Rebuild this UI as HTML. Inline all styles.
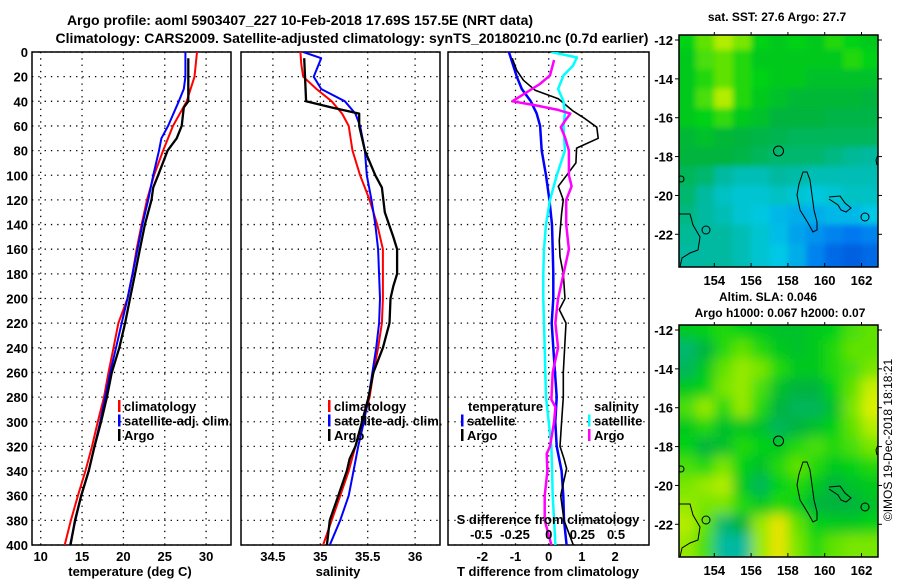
<!DOCTYPE html>
<html><head><meta charset="utf-8"><style>
body{margin:0;background:#fff;}
svg{display:block;font-family:"Liberation Sans",Arial,sans-serif;font-weight:bold;}
</style></head><body>
<svg id="c" width="900" height="580" viewBox="0 0 900 580">
<defs>
<clipPath id="cp1"><rect x="32" y="52" width="199" height="493"/></clipPath>
<clipPath id="cp2"><rect x="241" y="52" width="199" height="493"/></clipPath>
<clipPath id="cp3"><rect x="448" y="52" width="201" height="493"/></clipPath>
<clipPath id="cm1"><rect x="679" y="35" width="199" height="232"/></clipPath>
<clipPath id="cm2"><rect x="679" y="325" width="199" height="232"/></clipPath>
<filter id="blur"><feGaussianBlur stdDeviation="6"/></filter>
<filter id="blur2"><feGaussianBlur stdDeviation="3"/></filter>
</defs>
<text x="300" y="25" font-size="14" text-anchor="middle">Argo profile: aoml 5903407_227 10-Feb-2018 17.69S 157.5E (NRT data)</text>
<text x="352" y="43" font-size="14" text-anchor="middle">Climatology: CARS2009. Satellite-adjusted climatology: synTS_20180210.nc (0.7d earlier)</text>
<g id="g"></g>
<text x="777" y="21" font-size="12" text-anchor="middle">sat. SST: 27.6 Argo: 27.7</text>
<text x="768" y="301" font-size="12" text-anchor="middle">Altim. SLA: 0.046</text>
<text x="780" y="317" font-size="12" text-anchor="middle">Argo h1000: 0.067 h2000: 0.07</text>
<text transform="translate(892,440) rotate(-90)" font-size="12" font-weight="normal" text-anchor="middle">©IMOS 19-Dec-2018 18:18:21</text>
</svg>
<script>
// ---- data ----
const depthTicks=[0,20,40,60,80,100,120,140,160,180,200,220,240,260,280,300,320,340,360,380,400];
const tTicks=[10,15,20,25,30];
const sTicks=[34.5,35,35.5,36];
const dTTicks=[-2,-1,0,1,2];
const dSTicks=[-0.5,-0.25,0,0.25,0.5];
const tClimDepth=[0,20,40,60,80,100,120,140,160,180,200,220,240,260,280,300,320,340,360,380,400];
const tClim=[28.9,28.6,27.65,26.0,24.8,23.7,22.85,22.2,21.6,21.1,20.5,19.4,18.8,18.2,17.65,16.9,16.2,15.4,14.5,13.65,12.9];
const tSatDepth=[0,20,30,40,60,70,80,100,120,140,160,180,200,220,240,260,280,300,320,340,360,380,400];
const tSat=[27.5,27.5,27.3,26.7,25.4,24.6,24.3,23.6,23.0,22.3,21.7,21.1,20.5,19.8,19.1,18.4,17.8,17.2,16.5,15.8,14.9,14.2,13.55];
const tArgoDepth=[5,40,45,60,70,80,100,110,120,140,160,180,200,220,240,260,280,300,320,340,360,380,400];
const tArgo=[27.85,27.85,27.3,27.05,26.45,25.35,24.2,23.6,23.4,22.6,22.0,21.4,20.8,20.2,19.5,18.6,18.0,17.3,16.5,15.8,14.9,14.15,13.6];
const sClimDepth=[0,10,20,30,40,50,60,80,100,120,140,160,180,200,220,240,260,280,300,320,340,360,380,400];
const sClim=[34.79,34.80,34.82,34.96,35.12,35.23,35.30,35.34,35.42,35.52,35.60,35.66,35.66,35.66,35.65,35.61,35.56,35.52,35.45,35.37,35.30,35.21,35.12,35.03];
const sSatDepth=[0,5,20,30,40,50,60,80,100,120,140,160,200,220,240,260,280,300,320,340,360,380,400];
const sSat=[34.82,35.01,34.93,35.01,35.26,35.37,35.42,35.47,35.49,35.54,35.58,35.61,35.63,35.62,35.59,35.55,35.51,35.46,35.40,35.35,35.30,35.21,35.10];
const sArgoDepth=[5,40,45,50,60,80,100,110,130,150,160,180,190,200,220,240,260,280,300,320,330,340,360,380,400];
const sArgo=[34.83,34.85,35.12,35.41,35.41,35.47,35.58,35.65,35.68,35.77,35.81,35.81,35.77,35.74,35.73,35.66,35.56,35.51,35.44,35.37,35.31,35.28,35.19,35.10,35.07];
const dTSatDepth=[0,20,30,40,50,60,80,100,120,140,160,180,200,220,240,260,280,300,320,340,360,380,400];
const dTSat=[-1.2,-0.96,-0.81,-0.54,-0.36,-0.26,-0.21,-0.08,0.02,0.1,0.12,0.14,0.14,0.09,0.14,0.19,0.24,0.2,0.24,0.39,0.44,0.46,0.54];
const dTArgoDepth=[5,15,23,31,38,48,54,61,70,78,90,100,109,120,131,153,166,180,200,209,220,260,280,300,320,330,338,350,360,380,400];
const dTArgo=[-1.1,-0.96,-0.76,-0.41,0.29,0.74,1.09,1.45,1.49,0.84,0.82,0.54,0.29,0.44,0.39,0.32,0.34,0.44,0.49,0.32,0.52,0.44,0.44,0.39,0.34,0.46,0.54,0.44,0.36,0.46,0.74];
const dSSatDepth=[0,4.5,11,19,30,40,50,60,80,100,120,140,160,180,200,240,260,280,300,320,340,360,380,400];
const dSSat=[0.02,0.21,0.18,0.11,0.07,0.11,0.12,0.11,0.12,0.06,0.01,-0.02,-0.035,-0.04,-0.04,-0.03,-0.025,-0.02,0,0.02,0.025,0.03,0.04,0.05];
const dSArgoDepth=[6.5,19,26,40,43,47,50,56,61,69,80,100,109,120,140,160,180,200,209,220,240,260,282,288,300,320,326,340,360,380,400];
const dSArgo=[0.04,0.01,-0.065,-0.27,-0.11,0.07,0.16,0.12,0.09,0.12,0.15,0.15,0.17,0.13,0.13,0.15,0.11,0.07,0.06,0.05,0.07,0.03,0.02,0.05,0.04,0.01,-0.015,-0.01,-0.03,-0.03,0.02];
const mapLons=[152.5,153.5,154.5,155.5,156.5,157.5,158.5,159.5,160.5,161.5,162.5];
const mapLats=[-12,-13,-14,-15,-16,-17,-18,-19,-20,-21,-22,-23];
const lonTicks=[154,156,158,160,162];
const latTicks=[-12,-14,-16,-18,-20,-22];
const sstGrid=[
[0.62,0.7,0.78,0.72,0.62,0.6,0.62,0.6,0.65,0.62,0.6],
[0.6,0.68,0.7,0.65,0.6,0.6,0.6,0.6,0.6,0.65,0.62],
[0.6,0.65,0.7,0.65,0.62,0.6,0.6,0.58,0.58,0.58,0.58],
[0.6,0.68,0.78,0.65,0.6,0.58,0.56,0.56,0.56,0.56,0.55],
[0.6,0.62,0.66,0.6,0.58,0.55,0.55,0.55,0.54,0.54,0.54],
[0.56,0.58,0.56,0.55,0.54,0.53,0.52,0.52,0.52,0.52,0.52],
[0.55,0.55,0.55,0.54,0.52,0.5,0.5,0.5,0.48,0.46,0.45],
[0.52,0.5,0.45,0.42,0.42,0.45,0.44,0.42,0.42,0.42,0.42],
[0.5,0.45,0.4,0.38,0.38,0.4,0.38,0.36,0.38,0.4,0.4],
[0.48,0.45,0.42,0.38,0.36,0.32,0.3,0.3,0.32,0.32,0.35],
[0.46,0.45,0.45,0.42,0.38,0.33,0.28,0.25,0.22,0.2,0.22],
[0.45,0.45,0.45,0.42,0.38,0.35,0.3,0.22,0.15,0.12,0.15]];
const slaGrid=[
[0.6,0.62,0.65,0.62,0.6,0.58,0.58,0.6,0.62,0.68,0.7],
[0.5,0.55,0.65,0.7,0.65,0.6,0.58,0.6,0.65,0.7,0.7],
[0.52,0.6,0.7,0.75,0.72,0.65,0.6,0.6,0.65,0.68,0.72],
[0.6,0.62,0.72,0.75,0.68,0.58,0.55,0.55,0.62,0.7,0.8],
[0.68,0.75,0.65,0.75,0.65,0.55,0.52,0.52,0.58,0.72,0.82],
[0.6,0.65,0.58,0.6,0.58,0.52,0.55,0.58,0.62,0.7,0.78],
[0.62,0.55,0.58,0.65,0.62,0.6,0.65,0.68,0.65,0.68,0.72],
[0.68,0.65,0.72,0.62,0.58,0.65,0.7,0.65,0.6,0.62,0.65],
[0.72,0.75,0.78,0.6,0.52,0.62,0.65,0.6,0.55,0.58,0.6],
[0.75,0.72,0.72,0.65,0.6,0.65,0.62,0.55,0.55,0.55,0.58],
[0.78,0.7,0.5,0.55,0.75,0.85,0.7,0.62,0.6,0.6,0.62],
[0.75,0.68,0.45,0.45,0.75,0.85,0.72,0.65,0.7,0.72,0.72]];

// ---- drawing ----
const NS='http://www.w3.org/2000/svg';
const G=document.getElementById('g');
function mk(tag,attrs,parent){const e=document.createElementNS(NS,tag);for(const k in attrs)e.setAttribute(k,attrs[k]);(parent||G).appendChild(e);return e;}
const Y=d=>52+d*1.2325;
function panel(x0,x1,xs,ticks,clip,name){
  const g=mk('g',{});
  
  
  ticks.forEach(t=>{const l=mk('line',{x1:xs(t),x2:xs(t),y1:52,y2:545,stroke:'#000','stroke-width':1.3,'stroke-dasharray':'1.3 5'},g);
    });
  depthTicks.forEach(d=>{const l=mk('line',{x1:x0,x2:x1,y1:Y(d),y2:Y(d),stroke:'#000','stroke-width':1.3,'stroke-dasharray':'1.3 5'},g);
    });
  const r=mk('rect',{x:x0,y:52,width:x1-x0,height:493,fill:'none',stroke:'#000','stroke-width':1.5},g);
  
  return g;
}
function line(g,xs,depths,vals,color,w,clip,name){
  const pts=depths.map((d,i)=>xs(vals[i]).toFixed(1)+','+Y(d).toFixed(1)).join(' ');
  const p=mk('polyline',{points:pts,fill:'none',stroke:color,'stroke-width':w,'stroke-linejoin':'round','clip-path':'url(#'+clip+')'},g);
  
}
function txt(s,x,y,anchor,size,name,color){const t=mk('text',{x:x,y:y,'text-anchor':anchor,'font-size':size,fill:color||'#000'});t.textContent=s;
  return t;}
function legend(items,x,y){items.forEach((it,i)=>{const yy=y+i*14.5;
  const b=mk('rect',{x:x,y:yy-11,width:2.5,height:12,fill:it[1]});
  txt(it[0],x+6,yy,'start',13,'legend-entry');});}

// y labels
depthTicks.forEach(d=>txt(String(d),28,Y(d)+5,'end',13,'y-tick-label'));

// panel 1
const xT=v=>40.7+(v-10)*8.27;
const g1=panel(32,231,xT,tTicks,'cp1','temperature-panel');
line(g1,xT,tClimDepth,tClim,'#f00',2,'cp1','temp-climatology-line');
line(g1,xT,tSatDepth,tSat,'#00f',2,'cp1','temp-satellite-line');
line(g1,xT,tArgoDepth,tArgo,'#000',2.3,'cp1','temp-argo-line');
tTicks.forEach(t=>txt(String(t),xT(t),561,'middle',13,'x-tick-label'));
txt('temperature (deg C)',130,576,'middle',13,'x-axis-title');
legend([['climatology','#f00'],['satellite-adj. clim.','#00f'],['Argo','#000']],118,411);

// panel 2
const xS=v=>320.3+(v-35)*94.8;
const g2=panel(241,440,xS,sTicks,'cp2','salinity-panel');
line(g2,xS,sClimDepth,sClim,'#f00',2,'cp2','sal-climatology-line');
line(g2,xS,sSatDepth,sSat,'#00f',2,'cp2','sal-satellite-line');
line(g2,xS,sArgoDepth,sArgo,'#000',2.3,'cp2','sal-argo-line');
sTicks.forEach(t=>txt(String(t),xS(t),561,'middle',13,'x-tick-label'));
txt('salinity',338,576,'middle',13,'x-axis-title');
legend([['climatology','#f00'],['satellite-adj. clim.','#00f'],['Argo','#000']],328,411);

// panel 3
const xD=v=>548.7+v*33.2;
const xDS=v=>548.7+v*134.8;
const g3=panel(448,649,xD,dTTicks,'cp3','difference-panel');
line(g3,xD,dTSatDepth,dTSat,'#00f',2.5,'cp3','tdiff-satellite-line');
line(g3,xD,dTArgoDepth,dTArgo,'#000',1.6,'cp3','tdiff-argo-line');
line(g3,xDS,dSSatDepth,dSSat,'#0ff',2.5,'cp3','sdiff-satellite-line');
line(g3,xDS,dSArgoDepth,dSArgo,'#f0f',2.5,'cp3','sdiff-argo-line');
dTTicks.forEach(t=>txt(String(t),xD(t),561,'middle',13,'x-tick-label'));
txt('T difference from climatology',548,576,'middle',13,'x-axis-title');
txt('S difference from climatology',548,524,'middle',13,'s-axis-title');
dSTicks.forEach(t=>txt(String(t),xDS(t),539,'middle',13,'s-tick-label'));
txt('temperature',468,411,'start',13,'legend-heading');
legend([['satellite','#00f'],['Argo','#000']],461,425.5);
txt('salinity',594,411,'start',13,'legend-heading');
legend([['satellite','#0ff'],['Argo','#f0f']],588,425.5);

// maps
const stops=[[0,[0,60,200]],[0.2,[0,120,240]],[0.35,[0,200,230]],[0.45,[0,185,160]],[0.55,[0,180,60]],[0.62,[0,210,20]],[0.72,[120,230,0]],[0.82,[220,240,0]],[0.92,[255,200,0]],[1,[255,160,0]]];
function cmap(v){for(let i=1;i<stops.length;i++){if(v<=stops[i][0]){const a=stops[i-1],b=stops[i],f=(v-a[0])/(b[0]-a[0]);
  return 'rgb('+a[1].map((c,j)=>Math.round(c+(b[1][j]-c)*f)).join(',')+')';}}return 'rgb(255,160,0)';}
function map(y0,grid,clip,blurId,name){
  const lx=v=>714.3+(v-154)*18.4, ly=v=>y0+5+(-12-v)*19.43;
  const g=mk('g',{'clip-path':'url(#'+clip+')'});
  
  const inner=mk('g',{filter:'url(#'+blurId+')'},g);
  mapLats.forEach((la,i)=>mapLons.forEach((lo,j)=>{
    const c=mk('rect',{x:lx(lo-0.5)-(j==0?12:0),y:ly(la+0.5)-(i==0?12:0),width:18.4+1+(j==0||j==10?12:0),height:19.43+1+(i==0||i==11?12:0),fill:cmap(grid[i][j])},inner);
    }));
  const off=y0-35;
  const coast=[[[799,184],[803,172],[807,172],[810,180],[812,195],[814,210],[817,222],[817,230],[813,232],[808,223],[800,210],[797,195],[799,184]],
    [[679,214],[690,214],[693,225],[700,237],[698,250],[690,253],[682,258],[680,267]],
    [[829,197],[840,196],[845,203],[851,208],[846,212],[841,210],[838,205],[829,199]],
    [[878,155],[876,160],[877,165]]];
  coast.forEach(c=>{const p=mk('polyline',{points:c.map(q=>q[0]+','+(q[1]+off)).join(' '),fill:'none',stroke:'#000','stroke-width':1},g);
    });
  [[778.5,151,5],[706,230,4],[865,217,4],[681,179,3]].forEach(c=>{const e=mk('circle',{cx:c[0],cy:c[1]+off,r:c[2],fill:'none',stroke:'#000','stroke-width':1},g);
    });
  const f=mk('rect',{x:679,y:y0,width:199,height:232,fill:'none',stroke:'#000','stroke-width':1.5});
  
  lonTicks.forEach(t=>{mk('line',{x1:lx(t),x2:lx(t),y1:y0+232,y2:y0+228,stroke:'#000'});mk('line',{x1:lx(t),x2:lx(t),y1:y0,y2:y0-3,stroke:'#000'});
    txt(String(t),lx(t),y0+250,'middle',13,'map-lon-label');});
  latTicks.forEach(t=>{mk('line',{x1:679,x2:675,y1:ly(t),y2:ly(t),stroke:'#000'});mk('line',{x1:878,x2:882,y1:ly(t),y2:ly(t),stroke:'#000'});
    txt(String(t),673,ly(t)+5,'end',13,'map-lat-label');});
}
map(35,sstGrid,'cm1','blur2','sst-map');
map(325,slaGrid,'cm2','blur','sla-map');
</script>
</body></html>
